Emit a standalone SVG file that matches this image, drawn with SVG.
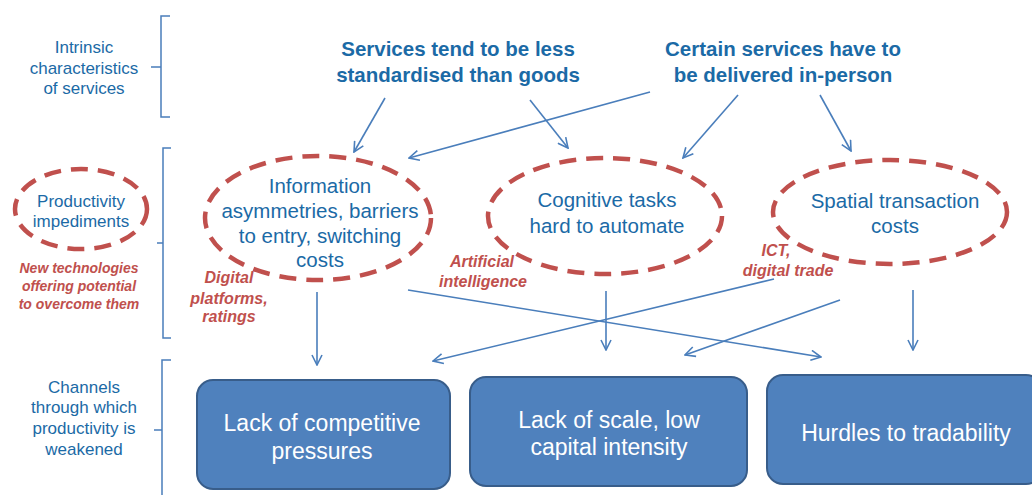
<svg xmlns="http://www.w3.org/2000/svg" width="1032" height="495" viewBox="0 0 1032 495">
<defs>
<marker id="ah" viewBox="0 0 12 12" refX="11" refY="6" markerWidth="12" markerHeight="12" markerUnits="userSpaceOnUse" orient="auto">
<path d="M1,1 L11,6 L1,11" fill="none" stroke="#4A7EBB" stroke-width="1.6"/>
</marker>
<style>
.lbl{font-family:"Liberation Sans",Arial,sans-serif;fill:#1B6AA6;text-anchor:middle}
.side{font-size:17px}
.head{font-size:20.5px;font-weight:bold}
.ell{font-size:20.5px}
.red{font-family:"Liberation Sans",Arial,sans-serif;fill:#C0504D;font-weight:bold;font-style:italic;text-anchor:middle}
.dash{fill:none;stroke:#C0504D;stroke-width:4.5;stroke-dasharray:17,10}
.box{fill:#4F81BD;stroke:#385D8A;stroke-width:2}
.bt{font-family:"Liberation Sans",Arial,sans-serif;fill:#FFFFFF;font-size:23px;text-anchor:middle}
.br{fill:none;stroke:#4A7EBB;stroke-width:1.5}
.con{fill:none;stroke:#4A7EBB;stroke-width:1.6;marker-end:url(#ah)}
</style>
</defs>
<rect width="1032" height="495" fill="#FFFFFF"/>

<g id="brackets">
<path class="br" d="M170,16 H161 V117 H170 M151,67 H161"/>
<path class="br" d="M171,148 H163 V338 H171 M157,243 H163"/>
<path class="br" d="M171,360 H162 V495 M154,430 H162"/>
</g>

<g id="side-labels">
<text class="lbl side" x="84" y="53">Intrinsic</text>
<text class="lbl side" x="84" y="74">characteristics</text>
<text class="lbl side" x="84" y="94">of services</text>
<text class="lbl side" x="84" y="393">Channels</text>
<text class="lbl side" x="84" y="413">through which</text>
<text class="lbl side" x="84" y="434">productivity is</text>
<text class="lbl side" x="84" y="455">weakened</text>
</g>

<g id="productivity-impediments">
<ellipse class="dash" cx="81" cy="209" rx="66" ry="40"/>
<text class="lbl side" x="81" y="207">Productivity</text>
<text class="lbl side" x="81" y="227">impediments</text>
<text class="red" font-size="14" x="79" y="273">New technologies</text>
<text class="red" font-size="14" x="79" y="291">offering potential</text>
<text class="red" font-size="14" x="79" y="309">to overcome them</text>
</g>

<g id="services-standardised">
<text class="lbl head" x="458" y="56">Services tend to be less</text>
<text class="lbl head" x="458" y="82">standardised than goods</text>
</g>
<g id="services-in-person">
<text class="lbl head" x="783" y="56">Certain services have to</text>
<text class="lbl head" x="783" y="82">be delivered in-person</text>
</g>

<g id="information-asymmetries">
<ellipse class="dash" cx="318" cy="218" rx="113" ry="62"/>
<text class="lbl ell" x="320" y="193">Information</text>
<text class="lbl ell" x="320" y="218">asymmetries, barriers</text>
<text class="lbl ell" x="320" y="243">to entry, switching</text>
<text class="lbl ell" x="320" y="267">costs</text>
</g>
<g id="cognitive-tasks">
<ellipse class="dash" cx="605" cy="216" rx="117" ry="58"/>
<text class="lbl ell" x="607" y="207">Cognitive tasks</text>
<text class="lbl ell" x="607" y="233">hard to automate</text>
</g>
<g id="spatial-costs">
<ellipse class="dash" cx="890" cy="212" rx="117" ry="52"/>
<text class="lbl ell" x="895" y="208">Spatial transaction</text>
<text class="lbl ell" x="895" y="233">costs</text>
</g>

<g id="tech-labels">
<text class="red" font-size="16" x="229" y="283">Digital</text>
<text class="red" font-size="16" x="229" y="304">platforms,</text>
<text class="red" font-size="16" x="229" y="322">ratings</text>
<text class="red" font-size="16" x="482" y="267">Artificial</text>
<text class="red" font-size="16" x="483" y="287">intelligence</text>
<text class="red" font-size="16" x="776" y="256">ICT,</text>
<text class="red" font-size="16" x="788" y="276">digital trade</text>
</g>

<g id="lack-competitive">
<rect class="box" x="197" y="380" width="253" height="109" rx="16"/>
<text class="bt" x="322" y="431">Lack of competitive</text>
<text class="bt" x="322" y="459">pressures</text>
</g>
<g id="lack-scale">
<rect class="box" x="470" y="377" width="277" height="109" rx="16"/>
<text class="bt" x="609" y="428">Lack of scale, low</text>
<text class="bt" x="609" y="455">capital intensity</text>
</g>
<g id="hurdles">
<rect class="box" x="767" y="375" width="275" height="109" rx="16"/>
<text class="bt" x="906" y="441">Hurdles  to tradability</text>
</g>

<g id="connectors">
<line class="con" x1="385" y1="98" x2="354" y2="152"/>
<line class="con" x1="650" y1="92" x2="409" y2="158"/>
<line class="con" x1="530" y1="100" x2="568" y2="148"/>
<line class="con" x1="738" y1="95" x2="683" y2="158"/>
<line class="con" x1="820" y1="95" x2="851" y2="151"/>
<line class="con" x1="317" y1="292" x2="317" y2="365"/>
<line class="con" x1="408" y1="290" x2="821" y2="357"/>
<line class="con" x1="606" y1="291" x2="606" y2="350"/>
<line class="con" x1="774" y1="279" x2="433" y2="361"/>
<line class="con" x1="840" y1="300" x2="685" y2="355"/>
<line class="con" x1="913" y1="290" x2="913" y2="350"/>
</g>
</svg>
